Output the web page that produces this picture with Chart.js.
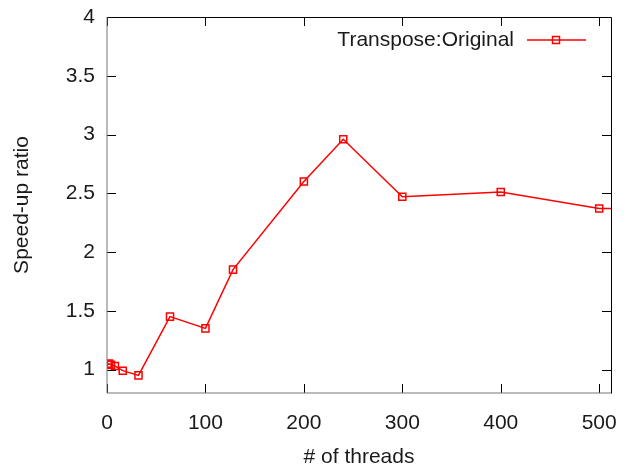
<!DOCTYPE html>
<html>
<head>
<meta charset="utf-8">
<script src="https://cdn.jsdelivr.net/npm/chart.js@4/dist/chart.umd.min.js"></script>
<style>
html,body{margin:0;padding:0;background:#fff;}
#wrap{width:630px;height:466px;position:relative;}
</style>
</head>
<body>
<div id="wrap"><canvas id="c" width="630" height="466"></canvas></div>
<script>
// ---- data ----
const threads = [1, 2, 4, 8, 16, 32, 64, 100, 128, 200, 240, 300, 400, 500, 512];
const speedup = [1.04, 1.05, 1.04, 1.03, 0.99, 0.95, 1.45, 1.35, 1.85, 2.60, 2.96, 2.47, 2.51, 2.37, 2.37];
const seriesName = 'Transpose:Original';
const xTicks = [0, 100, 200, 300, 400, 500];
const yTicks = [1, 1.5, 2, 2.5, 3, 3.5, 4];
const xTitle = '# of threads';
const yTitle = 'Speed-up ratio';

const FONT = '"Liberation Sans", Arial, sans-serif';
const FS = 21;
const TXT = '#1a1a1a';

const framePlugin = {
  id: 'frame',
  afterDatasetsDraw(chart) {
    const ctx = chart.ctx;
    const a = chart.chartArea;
    const xs = chart.scales.x, ys = chart.scales.y;
    const L = Math.round(a.left), R = Math.round(a.right), T = Math.round(a.top), B = Math.round(a.bottom);
    ctx.save();
    ctx.lineWidth = 1;
    ctx.strokeStyle = '#000';
    const tl = 9;
    ctx.beginPath();
    xs.ticks.forEach(t => {
      const p = Math.round(xs.getPixelForValue(t.value)) + 0.5;
      ctx.moveTo(p, B); ctx.lineTo(p, B - tl);
      ctx.moveTo(p, T); ctx.lineTo(p, T + tl);
    });
    ys.ticks.forEach(t => {
      const p = Math.round(ys.getPixelForValue(t.value)) + 0.5;
      ctx.moveTo(L, p); ctx.lineTo(L + tl, p);
      ctx.moveTo(R, p); ctx.lineTo(R - tl, p);
    });
    ctx.stroke();
    ctx.strokeStyle = '#000';
    ctx.beginPath();
    ctx.moveTo(L + 0.5, T + 0.5); ctx.lineTo(R + 0.5, T + 0.5); ctx.lineTo(R + 0.5, B + 0.5);
    ctx.stroke();
    ctx.strokeStyle = '#777';
    ctx.beginPath();
    ctx.moveTo(L, T); ctx.lineTo(L, B); ctx.lineTo(R, B);
    ctx.stroke();

    // legend
    const ds = chart.data.datasets[0];
    const ly = 40;
    ctx.font = FS + 'px ' + FONT;
    ctx.fillStyle = TXT;
    ctx.textAlign = 'right';
    ctx.textBaseline = 'middle';
    ctx.fillText(ds.label, 514, ly);
    ctx.strokeStyle = ds.borderColor;
    ctx.lineWidth = 1.5;
    ctx.beginPath();
    ctx.moveTo(527, ly); ctx.lineTo(586, ly);
    ctx.stroke();
    ctx.strokeRect(552.5, ly - 3.5, 7, 7);
    ctx.restore();
  }
};

const chart = new Chart(document.getElementById('c'), {
  type: 'line',
  data: {
    datasets: [{
      label: seriesName,
      data: threads.map((t, i) => ({x: t, y: speedup[i]})),
      borderColor: '#ff0000',
      backgroundColor: 'rgba(0,0,0,0)',
      borderWidth: 1.5,
      pointStyle: 'rect',
      pointRadius: threads.map((t, i) => i === threads.length - 1 ? 0 : 5),
      pointBorderWidth: 1.5,
      pointBorderColor: '#ff0000',
      pointBackgroundColor: 'rgba(0,0,0,0)',
      tension: 0
    }]
  },
  plugins: [framePlugin],
  options: {
    responsive: false,
    animation: false,
    devicePixelRatio: 1,
    layout: { padding: { top: 17, right: 19, left: 0, bottom: 0 } },
    plugins: { legend: { display: false }, tooltip: { enabled: false } },
    scales: {
      x: {
        type: 'linear',
        min: 0, max: 512,
        afterBuildTicks: s => { s.ticks = xTicks.map(v => ({value: v})); },
        afterFit: s => { s.height = 73; s.paddingLeft = 0; s.paddingRight = 0; s.paddingTop = 0; s.paddingBottom = 0; },
        grid: { display: false, drawTicks: false },
        border: { display: false },
        ticks: { color: TXT, font: { family: FONT, size: FS }, padding: 18, maxRotation: 0,
                 callback: v => String(v) },
        title: { display: true, text: xTitle, color: TXT, font: { family: FONT, size: FS, lineHeight: 0.85 }, padding: 0 }
      },
      y: {
        type: 'linear',
        min: 0.8, max: 4,
        afterBuildTicks: s => { s.ticks = yTicks.map(v => ({value: v})); },
        afterFit: s => { s.width = 107; s.paddingTop = 0; s.paddingBottom = 0; s.paddingLeft = 0; s.paddingRight = 0; },
        grid: { display: false, drawTicks: false },
        border: { display: false },
        ticks: { color: TXT, font: { family: FONT, size: FS }, padding: 12,
                 callback: v => String(v) },
        title: { display: true, text: yTitle, color: TXT, font: { family: FONT, size: FS, lineHeight: 1 }, padding: { top: 12, bottom: 0 } }
      }
    }
  }
});
</script>
</body>
</html>
